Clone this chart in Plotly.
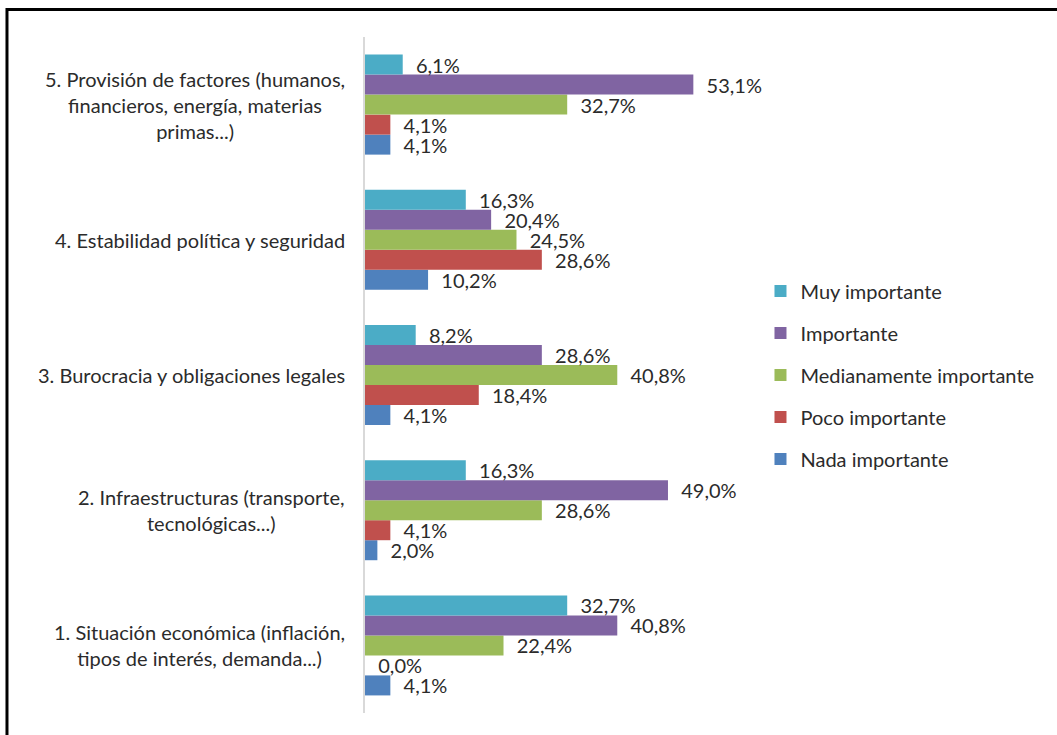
import plotly.graph_objects as go

# Factors (bottom to top on the category axis)
categories = [
    "1. Situación económica (inflación,<br>tipos de interés, demanda...)",
    "2. Infraestructuras (transporte,<br>tecnológicas...)",
    "3. Burocracia y obligaciones legales",
    "4. Estabilidad política y seguridad",
    "5. Provisión de factores (humanos,<br>financieros, energía, materias<br>primas...)",
]

# Share of responses per importance level, per factor (same order as categories)
nada_importante = [0.041, 0.020, 0.041, 0.102, 0.041]
poco_importante = [0.000, 0.041, 0.184, 0.286, 0.041]
medianamente_importante = [0.224, 0.286, 0.408, 0.245, 0.327]
importante = [0.408, 0.490, 0.286, 0.204, 0.531]
muy_importante = [0.327, 0.163, 0.082, 0.163, 0.061]

# (name, values, colour, legend rank) - drawn bottom-up inside each group
series = [
    ("Nada importante", nada_importante, "#4F81BD", 5),
    ("Poco importante", poco_importante, "#C0504D", 4),
    ("Medianamente importante", medianamente_importante, "#9BBB59", 3),
    ("Importante", importante, "#8064A2", 2),
    ("Muy importante", muy_importante, "#4BACC6", 1),
]

FONT = "Lato"
FONT_SIZE = 20
TEXT_COLOR = "#2b2b2b"
NBSP = "\u00a0"

fig = go.Figure()
for name, vals, color, rank in series:
    fig.add_trace(go.Bar(
        name=name,
        y=categories,
        x=vals,
        orientation="h",
        marker=dict(color=color, line=dict(width=0)),
        texttemplate=NBSP * 2 + "%{x:.1%}",
        textposition="outside",
        constraintext="none",
        cliponaxis=False,
        textfont=dict(family=FONT, size=FONT_SIZE, color=TEXT_COLOR),
        legendgroup=name,
        legendrank=rank,
    ))

# Category labels: centred lines, right-aligned block next to the axis
for cat in categories:
    fig.add_annotation(
        x=0, y=cat, xref="x", yref="y",
        text=cat, showarrow=False,
        xanchor="right", yanchor="middle", align="center",
        xshift=-18,
        font=dict(family=FONT, size=FONT_SIZE, color=TEXT_COLOR),
    )

# Outer chart frame (top and left edges visible)
fig.add_shape(type="rect", xref="paper", yref="paper",
              x0=-0.965, x1=2.0, y0=-1.0, y1=1.0407,
              line=dict(color="black", width=3), layer="above")

fig.update_layout(
    width=1057, height=735,
    margin=dict(l=365, r=321, t=37, b=22),
    paper_bgcolor="white", plot_bgcolor="white",
    barmode="group", bargap=0.26, bargroupgap=0,
    separators=",.",
    showlegend=True,
    legend=dict(
        x=1.066, xanchor="left", y=0.5, yanchor="middle",
        traceorder="grouped", tracegroupgap=13,
        font=dict(family=FONT, size=FONT_SIZE, color=TEXT_COLOR),
        itemwidth=30,
    ),
    xaxis=dict(range=[0, 0.6], showgrid=False, zeroline=False,
               showticklabels=False, showline=False, ticks=""),
    yaxis=dict(showticklabels=False, showgrid=False, zeroline=False,
               showline=True, linecolor="#D9D9D9", linewidth=2, ticks=""),
    font=dict(family=FONT, color=TEXT_COLOR),
)

fig.write_html("out.html")
